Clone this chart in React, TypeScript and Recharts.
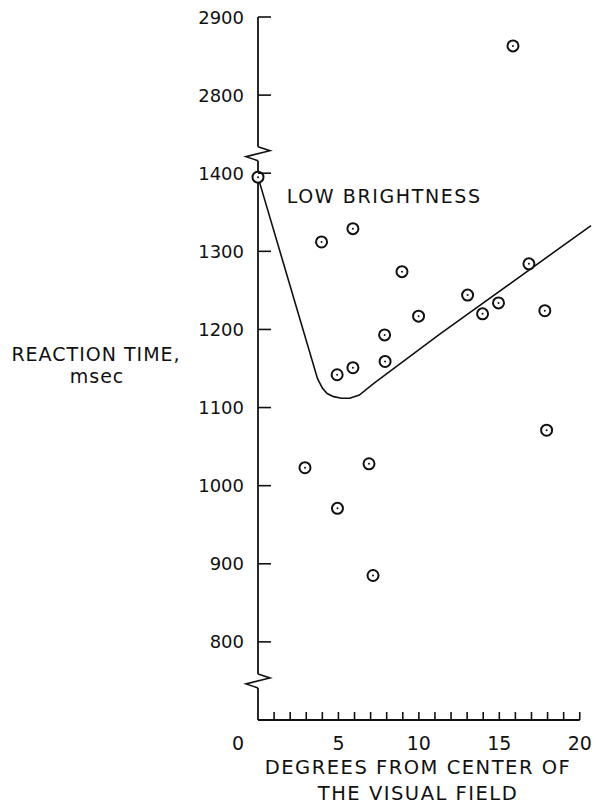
import React from 'react';
import {
  ComposedChart,
  Line,
  Scatter,
  XAxis,
  YAxis,
  ReferenceLine,
  ReferenceDot,
} from 'recharts';

// measured points: degrees from center, reaction time (msec)
const degrees = [0, 3.95, 5.9, 8.95, 9.98, 7.87, 7.9, 5.9, 4.92, 13.03, 13.96, 14.95, 16.84, 17.83, 15.85, 17.94, 2.92, 6.9, 4.94, 7.15];
const reactionTimes = [1395, 1312, 1329, 1274, 1217, 1193, 1159, 1151, 1142, 1244, 1220, 1234, 1284, 1224, 2863, 1071, 1023, 1028, 971, 885];

// fitted curve
const curveX = [0, 3.7, 4.0, 4.3, 4.7, 5.2, 5.7, 6.3, 7.2, 11.3, 20.7];
const curveY = [1395, 1137, 1125, 1118, 1114, 1112, 1112, 1116, 1131, 1194, 1333];

const yTicks = [800, 900, 1000, 1100, 1200, 1300, 1400, 2800, 2900];
const xTicks = [0, 1, 2, 3, 4, 5, 6, 7, 8, 9, 10, 11, 12, 13, 14, 15, 16, 17, 18, 19, 20];
const xLabels = [0, 5, 10, 15, 20];

// broken axis: 2800.. is drawn right above 1400..1500
const BREAK_FROM = 2800;
const BREAK_SHIFT = 1300;
const toAxis = (v: number) => (v >= BREAK_FROM ? v - BREAK_SHIFT : v);
const fromAxis = (v: number) => (v > 1450 ? v + BREAK_SHIFT : v);

const points = degrees.map((d, i) => ({ x: d, y: toAxis(reactionTimes[i]) }));
const curve = curveX.map((d, i) => ({ x: d, y: curveY[i] }));

const FONT = '"DejaVu Sans", sans-serif';
const INK = '#111';

const YTick = (props: any) => {
  const { x, y, payload } = props;
  return (
    <g>
      <line x1={x} x2={x + 13} y1={y} y2={y} stroke={INK} strokeWidth={1.6} />
      <text x={x - 14} y={y} textAnchor="end" dominantBaseline="central" fontFamily={FONT} fontSize={18} fill={INK}>
        {fromAxis(payload.value)}
      </text>
    </g>
  );
};

const XTick = (props: any) => {
  const { x, y, payload } = props;
  const v = payload.value;
  return (
    <g>
      {v > 0 && <line x1={x} x2={x} y1={y} y2={y - 8} stroke={INK} strokeWidth={1.6} />}
      {xLabels.includes(v) && (
        <text x={v === 0 ? x - 20 : x} y={y + 23} textAnchor="middle" dominantBaseline="central" fontFamily={FONT} fontSize={19} fill={INK}>
          {v}
        </text>
      )}
    </g>
  );
};

const Marker = (props: any) => {
  const { cx, cy } = props;
  return (
    <g>
      <circle cx={cx} cy={cy} r={5.5} fill="#fff" stroke={INK} strokeWidth={2} />
      <circle cx={cx} cy={cy} r={1} fill={INK} />
    </g>
  );
};

const Zigzag = (props: any) => {
  const { cx, cy } = props;
  return (
    <path
      d={`M${cx},${cy - 7} L${cx + 12},${cy - 3} L${cx - 12},${cy + 3} L${cx},${cy + 7}`}
      fill="none"
      stroke={INK}
      strokeWidth={1.6}
    />
  );
};

const YTitle = () => (
  <text fontFamily={FONT} fontSize={19} fill={INK} textAnchor="middle" letterSpacing={1}>
    <tspan x={96} y={361}>REACTION TIME,</tspan>
    <tspan x={97} y={383}>msec</tspan>
  </text>
);

const XTitle = () => (
  <text fontFamily={FONT} fontSize={19.5} fill={INK} textAnchor="middle" letterSpacing={1.5}>
    <tspan x={418} y={774}>DEGREES FROM CENTER OF</tspan>
    <tspan x={418} y={800}>THE VISUAL FIELD</tspan>
  </text>
);

const Annotation = (props: any) => (
  <text x={props.cx} y={props.cy} dominantBaseline="central" fontFamily={FONT} fontSize={19} fill={INK} letterSpacing={1.6}>
    LOW BRIGHTNESS
  </text>
);

export default function App() {
  return (
    <div style={{ position: 'absolute', left: 0, top: 0, background: '#fff' }}>
      <ComposedChart width={596} height={806} margin={{ top: 17, right: 5, bottom: 56, left: 198 }}>
        <XAxis
          type="number"
          dataKey="x"
          domain={[0, 20.6]}
          ticks={xTicks}
          height={30}
          axisLine={false}
          tickLine={false}
          tickSize={0}
          tickMargin={0}
          tick={<XTick />}
          interval={0}
          label={<XTitle />}
        />
        <YAxis
          type="number"
          dataKey="y"
          domain={[700, 1600]}
          ticks={yTicks.map(toAxis)}
          width={60}
          axisLine={false}
          tickLine={false}
          tickSize={0}
          tickMargin={0}
          tick={<YTick />}
          interval={0}
          label={<YTitle />}
        />
        <ReferenceLine segment={[{ x: 0, y: 700 }, { x: 20, y: 700 }]} stroke={INK} strokeWidth={1.8} />
        <ReferenceLine segment={[{ x: 0, y: 700 }, { x: 0, y: 741 }]} stroke={INK} strokeWidth={1.8} />
        <ReferenceLine segment={[{ x: 0, y: 759 }, { x: 0, y: 1416 }]} stroke={INK} strokeWidth={1.8} />
        <ReferenceLine segment={[{ x: 0, y: 1434 }, { x: 0, y: 1600 }]} stroke={INK} strokeWidth={1.8} />
        <ReferenceDot x={0} y={750} shape={<Zigzag />} />
        <ReferenceDot x={0} y={1425} shape={<Zigzag />} />
        <ReferenceDot x={1.79} y={1371} shape={<Annotation />} />
        <Line
          data={curve}
          dataKey="y"
          type="linear"
          stroke={INK}
          strokeWidth={1.6}
          dot={false}
          activeDot={false}
          isAnimationActive={false}
        />
        <Scatter data={points} dataKey="y" shape={<Marker />} isAnimationActive={false} />
      </ComposedChart>
    </div>
  );
}
